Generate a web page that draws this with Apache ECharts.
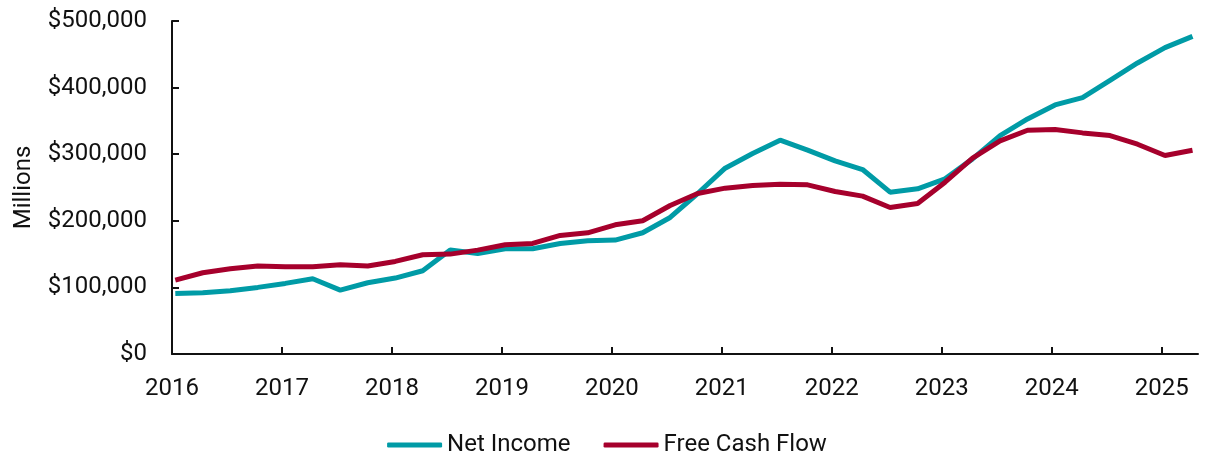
<!DOCTYPE html>
<html>
<head>
    <meta charset="utf-8">
    <script src="https://cdn.jsdelivr.net/npm/echarts@6/dist/echarts.min.js"></script>
    <style>
        body { margin: 0; background: #fff; }
    </style>
</head>
<body>
    <div id="main" style="width: 1214px;height:454px;"></div>
    <script type="text/javascript">
        // dates as decimal years (quarterly points)
        var dates = [2016.03, 2016.28, 2016.53, 2016.78, 2017.03, 2017.28, 2017.53, 2017.78,
                     2018.03, 2018.28, 2018.53, 2018.78, 2019.03, 2019.28, 2019.53, 2019.78,
                     2020.03, 2020.28, 2020.53, 2020.78, 2021.03, 2021.28, 2021.53, 2021.78,
                     2022.03, 2022.28, 2022.53, 2022.78, 2023.03, 2023.28, 2023.53, 2023.78,
                     2024.03, 2024.28, 2024.53, 2024.78, 2025.03, 2025.28];
        // values in $ thousands of millions
        var netIncome = [91, 92, 95, 100, 106, 113, 96, 107, 114, 125, 156, 151, 158, 158, 166, 170,
                         171, 182, 205, 241, 279, 301, 321, 306, 290, 277, 243, 248, 263, 293, 328, 353,
                         374, 385, 411, 437, 460, 477];
        var freeCashFlow = [111, 122, 128, 132, 131, 131, 134, 132, 139, 149, 150, 156, 164, 166, 178, 182,
                            194, 200, 223, 241, 249, 253, 255, 254, 244, 237, 220, 226, 258, 294, 320, 336,
                            337, 332, 328, 315, 298, 306];
        var yearLabels = [2016, 2017, 2018, 2019, 2020, 2021, 2022, 2023, 2024, 2025];

        function pairs(vals) {
            return vals.map(function (v, i) { return [dates[i], v * 1000]; });
        }

        var myChart = echarts.init(document.getElementById('main'));
        var font = 'Roboto';
        var fs = 24;
        myChart.setOption({
            animation: false,
            grid: { left: 172, right: 16, top: 21, bottom: 100 },
            legend: {
                top: 428,
                left: 'center',
                icon: 'roundRect',
                itemWidth: 55,
                itemHeight: 5,
                itemGap: 33,
                textStyle: { fontFamily: font, fontSize: fs, color: '#111' },
                data: ['Net Income', 'Free Cash Flow']
            },
            xAxis: {
                type: 'value',
                min: 2016,
                max: 2025.33,
                interval: 1,
                splitLine: { show: false },
                axisLine: { lineStyle: { color: '#111', width: 2 } },
                axisTick: { inside: true, length: 7, customValues: yearLabels.slice(1), lineStyle: { color: '#111', width: 2 } },
                axisLabel: {
                    customValues: yearLabels,
                    margin: 23,
                    fontFamily: font, fontSize: fs, color: '#111',
                    formatter: function (v) { return String(Math.round(v)); }
                }
            },
            yAxis: {
                type: 'value',
                min: 0,
                max: 500000,
                interval: 100000,
                name: 'Millions',
                nameLocation: 'middle',
                nameGap: 136,
                nameTextStyle: { fontFamily: font, fontSize: fs, color: '#111' },
                splitLine: { show: false },
                axisLine: { show: true, lineStyle: { color: '#111', width: 2 } },
                axisTick: { show: true, inside: true, length: 7, lineStyle: { color: '#111', width: 2 } },
                axisLabel: {
                    margin: 25,
                    fontFamily: font, fontSize: fs, color: '#111',
                    formatter: function (v) { return '$' + v.toLocaleString('en-US'); }
                }
            },
            series: [{
                name: 'Net Income',
                type: 'line',
                symbol: 'none',
                lineStyle: { width: 5, color: '#009ba6' },
                itemStyle: { color: '#009ba6' },
                data: pairs(netIncome)
            }, {
                name: 'Free Cash Flow',
                type: 'line',
                symbol: 'none',
                lineStyle: { width: 5, color: '#a6002c' },
                itemStyle: { color: '#a6002c' },
                data: pairs(freeCashFlow)
            }]
        });
    </script>
</body>
</html>
